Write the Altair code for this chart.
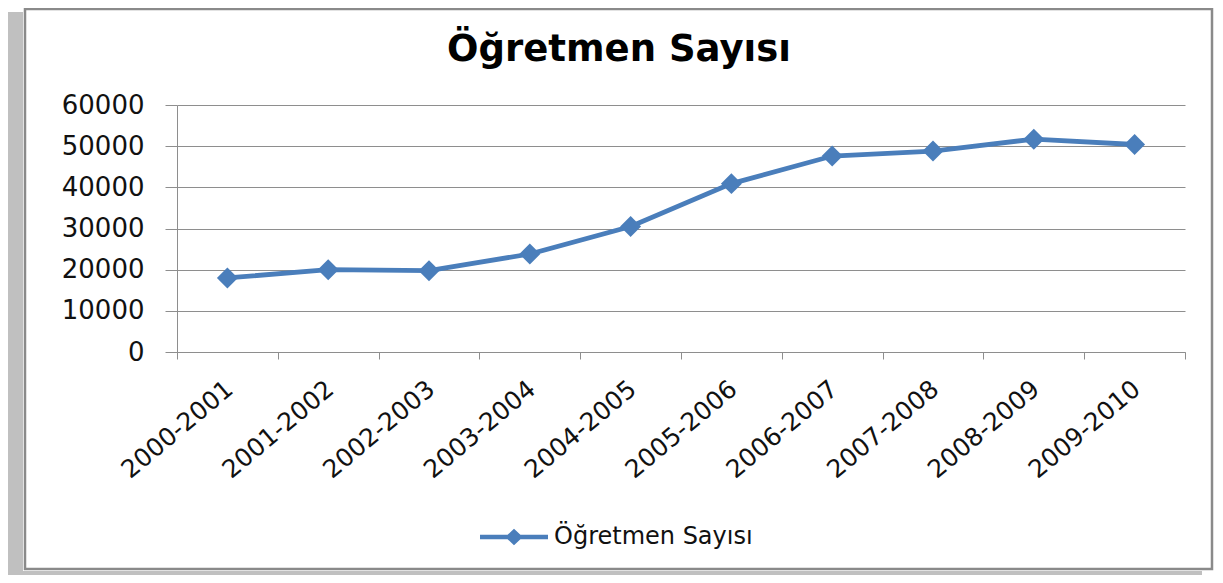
import altair as alt
import pandas as pd

years = ["2000-2001", "2001-2002", "2002-2003", "2003-2004", "2004-2005",
         "2005-2006", "2006-2007", "2007-2008", "2008-2009", "2009-2010"]
teachers = [18000, 20000, 19750, 23800, 30500, 40900, 47600, 48800, 51700, 50400]
series_name = "Öğretmen Sayısı"
y_ticks = [0, 10000, 20000, 30000, 40000, 50000, 60000]

BLUE = "#4A7EBB"
GRID = "#8E8E8E"
FONT = "DejaVu Sans"

df = pd.DataFrame({"Yıl": years, "Sayı": teachers, "Seri": [series_name] * len(years)})
one = pd.DataFrame({"k": [0]})

x_enc = alt.X(
    "Yıl:N", sort=years, title=None,
    scale=alt.Scale(paddingInner=0, paddingOuter=0),
    axis=alt.Axis(labelAngle=-40, labelAlign="right", labelBaseline="top",
                  labelFont=FONT, labelFontSize=25, labelColor="#111111",
                  labelPadding=17, labelOffset=-6, tickBand="extent",
                  tickSize=7, tickColor=GRID, domainColor=GRID, grid=False),
)
y_enc = alt.Y(
    "Sayı:Q", title=None,
    scale=alt.Scale(domain=[0, 60000], nice=False),
    axis=alt.Axis(values=y_ticks, format="d", labelFont=FONT, labelFontSize=26,
                  labelColor="#111111", labelPadding=21, tickSize=12,
                  tickColor=GRID, domainColor=GRID, gridColor=GRID, grid=True),
)
color_enc = alt.Color(
    "Seri:N", scale=alt.Scale(range=[BLUE]),
    legend=alt.Legend(title=None, orient="none", legendX=303, legendY=398,
                      symbolType="M-1,-0.065H1V0.065H-1Z M0,-0.24L0.26,0L0,0.24L-0.26,0Z",
                      symbolSize=4624, symbolFillColor=BLUE, symbolStrokeWidth=0,
                      labelFont=FONT, labelFontSize=24, labelColor="#111111",
                      labelOffset=6, labelLimit=500, padding=0),
)

line = alt.Chart(df).mark_line(strokeWidth=4.8).encode(x=x_enc, y=y_enc, color=color_enc)
points = alt.Chart(df).mark_point(shape="diamond", size=440, filled=True, opacity=1).encode(
    x=x_enc, y=y_enc, color=alt.Color("Seri:N", scale=alt.Scale(range=[BLUE]), legend=None)
)

shadow_left = alt.Chart(one).mark_rect(color="#C0C0C0").encode(
    x=alt.value(-169), x2=alt.value(-154), y=alt.value(-93), y2=alt.value(470))
shadow_bottom = alt.Chart(one).mark_rect(color="#C0C0C0").encode(
    x=alt.value(-169), x2=alt.value(1025), y=alt.value(466), y2=alt.value(470))
frame = alt.Chart(one).mark_rect(fill="white", fillOpacity=0, stroke="#8A8A8A", strokeWidth=2.5).encode(
    x=alt.value(-152), x2=alt.value(1035), y=alt.value(-96), y2=alt.value(464))

chart = alt.layer(shadow_left, shadow_bottom, frame, line, points).properties(
    width=1008, height=247,
    padding={"left": 169, "top": 97, "right": 30, "bottom": 223},
    autosize=alt.AutoSizeParams(type="none"),
    title=alt.TitleParams(series_name, font=FONT, fontSize=37, fontWeight="bold",
                          color="#000000", anchor="middle", dx=-62, dy=118, offset=28,
                          baseline="alphabetic"),
    background="white",
).configure_view(stroke=None)

chart.save("out.html", embed_options={"renderer": "svg", "actions": False})
